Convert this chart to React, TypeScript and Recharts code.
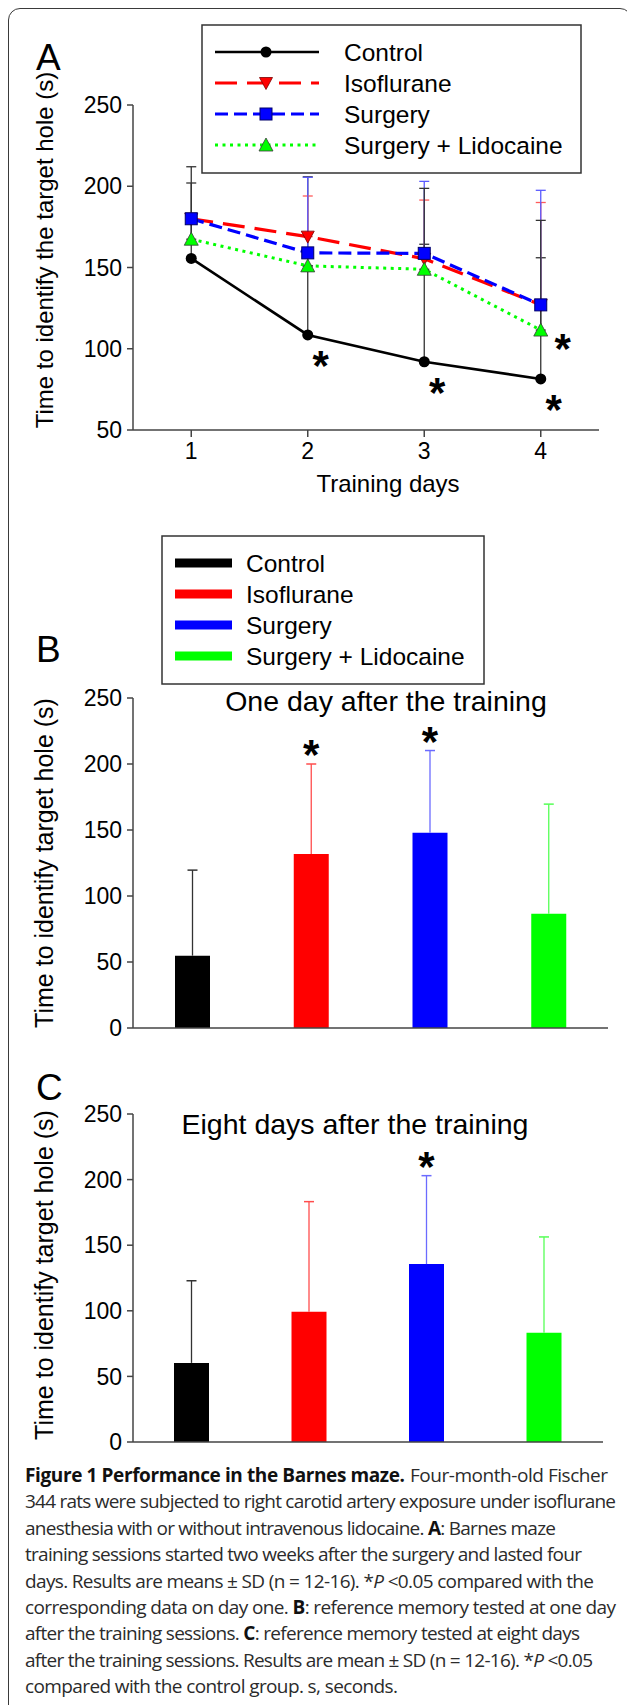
import React from "react";
import {
  LineChart,
  Line,
  BarChart,
  Bar,
  XAxis,
  YAxis,
  ErrorBar,
  LabelList,
  Cell,
} from "recharts";

const groups = ["Control", "Isoflurane", "Surgery", "Surgery + Lidocaine"];
const trainingDays = [1, 2, 3, 4];

// Panel A: means and the top end of the SD bar, per training day
const controlMean = [155.6, 108.5, 92, 81.4];
const isoMean = [180, 169, 155.4, 127];
const surgeryMean = [180, 159, 158.7, 127];
const lidoMean = [167.4, 151, 148.9, 111.5];
const controlTop = [212, 205.8, 164.3, 156];
const isoTop = [180, 194, 191.5, 190];
const surgeryTop = [180, 205.5, 203, 197.5];
const lidoTop = [202, 151, 198.7, 179];
const controlStar = [false, true, true, true];
const lidoStar = [false, false, false, true];

// Panel B: one day after the training
const oneDayMean = [54.8, 131.9, 148, 86.6];
const oneDayTop = [119.6, 200, 210.2, 169.6];
const oneDayStar = [false, true, true, false];

// Panel C: eight days after the training
const eightDayMean = [60.3, 99.2, 135.6, 83.2];
const eightDayTop = [122.9, 183.2, 203, 156.3];
const eightDayStar = [false, false, true, false];

const ticksA = [50, 100, 150, 200, 250];
const ticksBC = [0, 50, 100, 150, 200, 250];

// caption runs: line index, left / right edge, styled pieces
const captionRuns: { line: number; x0: number; x1: number; segs: [string, string][] }[] = [
  { line: 0, x0: 25, x1: 405, segs: [["b", "Figure 1 Performance in the Barnes maze."]] },
  { line: 0, x0: 410, x1: 608, segs: [["", "Four-month-old Fischer"]] },
  { line: 1, x0: 25, x1: 616, segs: [["", "344 rats were subjected to right carotid artery exposure under isoflurane"]] },
  { line: 2, x0: 25, x1: 556, segs: [["", "anesthesia with or without intravenous lidocaine. "], ["b", "A"], ["", ": Barnes maze"]] },
  { line: 3, x0: 25, x1: 582, segs: [["", "training sessions started two weeks after the surgery and lasted four"]] },
  { line: 4, x0: 25, x1: 594, segs: [["", "days. Results are means ± SD (n = 12-16). *"], ["i", "P"], ["", " <0.05 compared with the"]] },
  { line: 5, x0: 25, x1: 616, segs: [["", "corresponding data on day one. "], ["b", "B"], ["", ": reference memory tested at one day"]] },
  { line: 6, x0: 25, x1: 580, segs: [["", "after the training sessions. "], ["b", "C"], ["", ": reference memory tested at eight days"]] },
  { line: 7, x0: 25, x1: 593, segs: [["", "after the training sessions. Results are mean ± SD (n = 12-16). *"], ["i", "P"], ["", " <0.05"]] },
  { line: 8, x0: 25, x1: 398, segs: [["", "compared with the control group. s, seconds."]] },
];

const barColors = ["#000000", "#ff0000", "#0000ff", "#00ff00"];
const barErrColors = ["#333333", "#ff4d4d", "#6b6bff", "#55ff55"];

const FONT = "'Liberation Sans', Arial, sans-serif";
const axisStyle = { stroke: "#444", strokeWidth: 1.5 };
const tickStyle = { fontSize: 23, fill: "#000", fontFamily: FONT };

const lineData = trainingDays.map((d, i) => ({
  day: d,
  control: controlMean[i],
  iso: isoMean[i],
  surgery: surgeryMean[i],
  lido: lidoMean[i],
  controlErr: [0, controlTop[i] - controlMean[i]],
  isoErr: [0, isoTop[i] - isoMean[i]],
  surgeryErr: [0, surgeryTop[i] - surgeryMean[i]],
  lidoErr: [0, lidoTop[i] - lidoMean[i]],
}));

const oneDayData = groups.map((g, i) => ({
  group: g,
  mean: oneDayMean[i],
  errUp: oneDayTop[i] - oneDayMean[i],
}));

const eightDayData = groups.map((g, i) => ({
  group: g,
  mean: eightDayMean[i],
  errUp: eightDayTop[i] - eightDayMean[i],
}));

// markers
const circleDot = (p: any) => (
  <circle key={`c${p.index}`} cx={p.cx} cy={p.cy} r={5.5} fill="#000" />
);
const triDownDot = (p: any) => (
  <path
    key={`t${p.index}`}
    d={`M${p.cx - 6.5},${p.cy - 5.5}L${p.cx + 6.5},${p.cy - 5.5}L${p.cx},${p.cy + 6.5}Z`}
    fill="#ff0000"
    stroke="#7a0000"
    strokeWidth={0.8}
  />
);
const squareDot = (p: any) => (
  <rect
    key={`s${p.index}`}
    x={p.cx - 6}
    y={p.cy - 6}
    width={12}
    height={12}
    fill="#0000ff"
    stroke="#00006a"
    strokeWidth={1}
  />
);
const triUpDot = (p: any) => (
  <path
    key={`u${p.index}`}
    d={`M${p.cx - 7},${p.cy + 6}L${p.cx + 7},${p.cy + 6}L${p.cx},${p.cy - 7}Z`}
    fill="#00ff00"
    stroke="#3a3a3a"
    strokeWidth={0.8}
  />
);

const Star = ({ x, y }: { x: number; y: number }) => (
  <text
    x={x}
    y={y}
    textAnchor="middle"
    fontSize={42}
    fontWeight={700}
    fontFamily={FONT}
    fill="#000"
  >
    *
  </text>
);

const lineStar = (flags: boolean[], dx: number, dy: number) => (p: any) =>
  flags[p.index] ? <Star key={`ls${p.index}`} x={p.x + dx} y={p.y + dy} /> : null;

const barStar = (flags: boolean[]) => (p: any) =>
  flags[p.index] ? <Star key={`bs${p.index}`} x={p.x + p.width / 2} y={p.y + 5} /> : null;

// upper SD whisker drawn on top of the mean bar (stacked)
const errShape = (p: any) => {
  const cx = p.x + p.width / 2;
  const c = barErrColors[p.index % barErrColors.length];
  return (
    <g>
      <line x1={cx} x2={cx} y1={p.y + p.height} y2={p.y} stroke={c} strokeWidth={1.3} />
      <line x1={cx - 5} x2={cx + 5} y1={p.y} y2={p.y} stroke={c} strokeWidth={1.5} />
    </g>
  );
};

const PanelA = () => (
  <LineChart
    width={627}
    height={470}
    data={lineData}
    margin={{ top: 105, right: 28, left: 73, bottom: 10 }}
  >
    <XAxis
      dataKey="day"
      type="number"
      domain={[0.5, 4.5]}
      ticks={trainingDays}
      tickSize={7}
      tickMargin={6}
      height={30}
      axisLine={axisStyle}
      tickLine={axisStyle}
      tick={tickStyle}
    />
    <YAxis
      domain={[50, 250]}
      ticks={ticksA}
      width={60}
      tickSize={6}
      tickMargin={5}
      axisLine={axisStyle}
      tickLine={axisStyle}
      tick={tickStyle}
    />
    <Line
      dataKey="control"
      stroke="#000"
      strokeWidth={2.6}
      dot={circleDot}
      activeDot={false}
      isAnimationActive={false}
    >
      <ErrorBar dataKey="controlErr" direction="y" width={5} stroke="#333" strokeWidth={1.3} isAnimationActive={false} />
      <LabelList dataKey="control" content={lineStar(controlStar, 13, 45)} />
    </Line>
    <Line
      dataKey="iso"
      stroke="#ff0000"
      strokeWidth={3.2}
      strokeDasharray="22 10"
      dot={triDownDot}
      activeDot={false}
      isAnimationActive={false}
    >
      <ErrorBar dataKey="isoErr" direction="y" width={5} stroke="#ff5a5a" strokeWidth={1.3} isAnimationActive={false} />
    </Line>
    <Line
      dataKey="surgery"
      stroke="#0000ff"
      strokeWidth={3.2}
      strokeDasharray="13 6"
      dot={squareDot}
      activeDot={false}
      isAnimationActive={false}
    >
      <ErrorBar dataKey="surgeryErr" direction="y" width={5} stroke="#5a5aff" strokeWidth={1.3} isAnimationActive={false} />
    </Line>
    <Line
      dataKey="lido"
      stroke="#00ff00"
      strokeWidth={3}
      strokeDasharray="3 4.5"
      dot={triUpDot}
      activeDot={false}
      isAnimationActive={false}
    >
      <ErrorBar dataKey="lidoErr" direction="y" width={5} stroke="#333" strokeWidth={1.3} isAnimationActive={false} />
      <LabelList dataKey="lido" content={lineStar(lidoStar, 22, 33)} />
    </Line>
  </LineChart>
);

const BarPanel = ({
  data,
  stars,
  height,
  margin,
}: {
  data: { group: string; mean: number; errUp: number }[];
  stars: boolean[];
  height: number;
  margin: { top: number; right: number; left: number; bottom: number };
}) => (
  <BarChart width={627} height={height} data={data} margin={margin}>
    <XAxis dataKey="group" tick={false} tickLine={false} height={2} axisLine={axisStyle} />
    <YAxis
      domain={[0, 250]}
      ticks={ticksBC}
      width={60}
      tickSize={6}
      tickMargin={5}
      axisLine={axisStyle}
      tickLine={axisStyle}
      tick={tickStyle}
    />
    <Bar dataKey="mean" stackId="s" barSize={35} isAnimationActive={false}>
      {data.map((d, i) => (
        <Cell key={d.group} fill={barColors[i]} />
      ))}
    </Bar>
    <Bar dataKey="errUp" stackId="s" barSize={35} shape={errShape} isAnimationActive={false}>
      <LabelList dataKey="errUp" content={barStar(stars)} />
    </Bar>
  </BarChart>
);

const LegendA = () => {
  const rows = [
    { dash: undefined, color: "#000", w: 2.6, marker: circleDot },
    { dash: "22 10", color: "#ff0000", w: 3.2, marker: triDownDot },
    { dash: "13 6", color: "#0000ff", w: 3.2, marker: squareDot },
    { dash: "3 4.5", color: "#00ff00", w: 3, marker: triUpDot },
  ];
  return (
    <g transform="translate(202,25)">
      <rect x={0} y={0} width={379} height={148} fill="#fff" stroke="#333" strokeWidth={1.5} />
      {rows.map((r, i) => {
        const y = 27 + i * 31;
        return (
          <g key={groups[i]}>
            <line x1={13} x2={117} y1={y} y2={y} stroke={r.color} strokeWidth={r.w} strokeDasharray={r.dash} />
            {r.marker({ cx: 64, cy: y, index: i })}
            <text x={142} y={y + 9} fontSize={24.5} fontFamily={FONT} fill="#000">
              {groups[i]}
            </text>
          </g>
        );
      })}
    </g>
  );
};

const LegendB = () => (
  <g transform="translate(162,536)">
    <rect x={0} y={0} width={322} height={148} fill="#fff" stroke="#333" strokeWidth={1.5} />
    {groups.map((g, i) => {
      const y = 27 + i * 31;
      return (
        <g key={g}>
          <rect x={13} y={y - 4.5} width={57} height={9} fill={barColors[i]} />
          <text x={84} y={y + 9} fontSize={24.5} fontFamily={FONT} fill="#000">
            {g}
          </text>
        </g>
      );
    })}
  </g>
);

const Caption = () => (
  <g fontFamily="'Open Sans', 'Noto Sans', sans-serif" fontSize={19} fill="#2b2b2b">
    {captionRuns.map((r, i) => (
      <text
        key={i}
        x={r.x0}
        y={1482 + r.line * 26.4}
        textLength={r.x1 - r.x0}
        lengthAdjust="spacing"
      >
        {r.segs.map(([k, t], j) => (
          <tspan
            key={j}
            fontWeight={k === "b" ? 700 : 400}
            fontStyle={k === "i" ? "italic" : "normal"}
            fill={k === "b" ? "#111" : undefined}
          >
            {t}
          </tspan>
        ))}
      </text>
    ))}
  </g>
);

export default function App() {
  return (
    <div
      style={{
        position: "relative",
        width: 627,
        height: 1705,
        overflow: "hidden",
        background: "#fff",
        fontFamily: FONT,
      }}
    >
      <style>{`body{margin:0}`}</style>
      <div
        style={{
          position: "absolute",
          left: 8,
          top: 8,
          width: 624,
          height: 1760,
          border: "1.5px solid #3a3a3a",
          borderRadius: 12,
          boxSizing: "border-box",
        }}
      />
      <div style={{ position: "absolute", left: 0, top: 0 }}>
        <PanelA />
      </div>
      <div style={{ position: "absolute", left: 0, top: 520 }}>
        <BarPanel
          data={oneDayData}
          stars={oneDayStar}
          height={540}
          margin={{ top: 178, right: 19, left: 73, bottom: 30 }}
        />
      </div>
      <div style={{ position: "absolute", left: 0, top: 1060 }}>
        <BarPanel
          data={eightDayData}
          stars={eightDayStar}
          height={400}
          margin={{ top: 54, right: 24, left: 73, bottom: 16 }}
        />
      </div>
      <svg
        width={627}
        height={1705}
        style={{ position: "absolute", left: 0, top: 0, pointerEvents: "none" }}
      >
        <g fontFamily={FONT} fill="#000">
          <text x={36} y={70} fontSize={37}>A</text>
          <text x={36} y={662} fontSize={37}>B</text>
          <text x={36} y={1100} fontSize={37}>C</text>
          <text x={388} y={492} fontSize={24} textAnchor="middle">Training days</text>
          <text transform="translate(53,250) rotate(-90)" fontSize={24} textAnchor="middle">
            Time to identify the target hole (s)
          </text>
          <text transform="translate(53,863) rotate(-90)" fontSize={25} textAnchor="middle">
            Time to identify target hole (s)
          </text>
          <text transform="translate(53,1275) rotate(-90)" fontSize={25} textAnchor="middle">
            Time to identify target hole (s)
          </text>
          <text x={386} y={711} fontSize={28.5} textAnchor="middle">One day after the training</text>
          <text x={355} y={1134} fontSize={28.5} textAnchor="middle">Eight days after the training</text>
        </g>
        <LegendA />
        <LegendB />
        <Caption />
      </svg>
    </div>
  );
}
